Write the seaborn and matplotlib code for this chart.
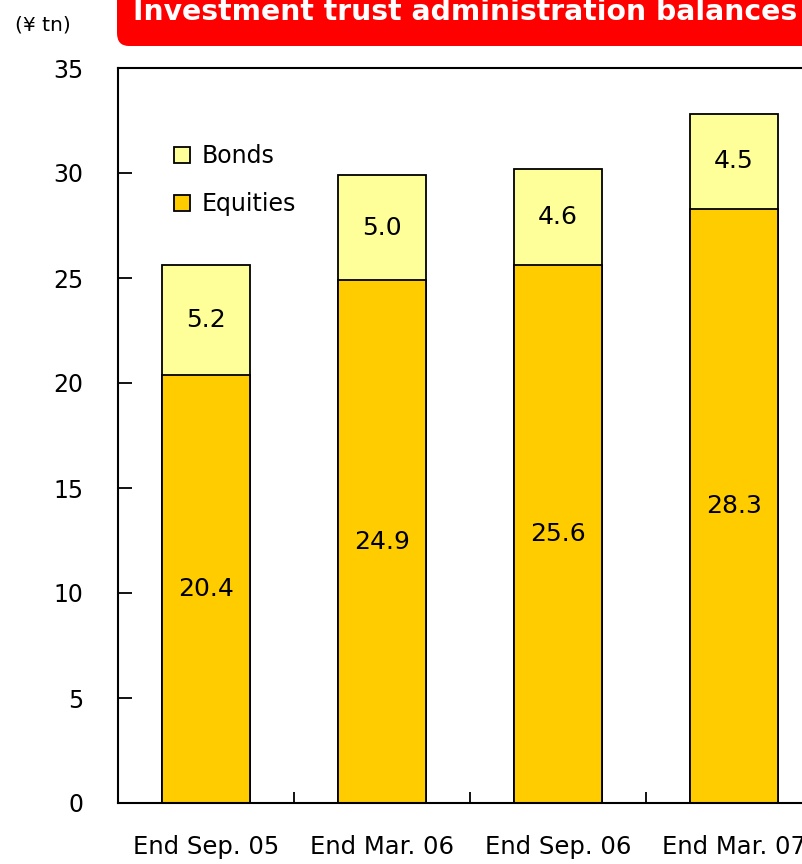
import matplotlib
matplotlib.use("Agg")
import matplotlib.pyplot as plt
import seaborn as sns
import pandas as pd
from matplotlib.patches import FancyBboxPatch
from matplotlib.ticker import FixedLocator

categories = ["End Sep. 05", "End Mar. 06", "End Sep. 06", "End Mar. 07"]
equities = [20.4, 24.9, 25.6, 28.3]
bonds = [5.2, 5.0, 4.6, 4.5]
yticks = [0, 5, 10, 15, 20, 25, 30, 35]

sns.set_style("white")
plt.rcParams["font.family"] = ["DejaVu Sans"]
plt.rcParams["text.color"] = "black"
plt.rcParams["xtick.color"] = "black"
plt.rcParams["ytick.color"] = "black"

totals = [e + b for e, b in zip(equities, bonds)]
df = pd.DataFrame({"cat": categories, "equities": equities, "bonds": bonds, "total": totals})

fig = plt.figure(figsize=(8.02, 8.64), dpi=100)
ax = fig.add_axes([118/802, 61/864, 704/802, 735/864])

sns.barplot(data=df, x="cat", y="total", color="#FFFF99", edgecolor="black",
            linewidth=1.3, width=0.5, saturation=1, ax=ax, label="Bonds")
sns.barplot(data=df, x="cat", y="equities", color="#FFCC00", edgecolor="black",
            linewidth=1.3, width=0.5, saturation=1, ax=ax, label="Equities")

ax.set_xlim(-0.5, 3.5)
ax.set_ylim(0, 35)
ax.set_yticks(yticks)
ax.set_yticklabels([str(t) for t in yticks], fontsize=17)
ax.set_xlabel("")
ax.set_ylabel("")
ax.tick_params(axis="y", direction="in", length=10, width=1.3, pad=25, left=True)
ax.tick_params(axis="x", which="major", length=0, pad=23, labelsize=17.5)
ax.xaxis.set_minor_locator(FixedLocator([0.5, 1.5, 2.5]))
ax.tick_params(axis="x", which="minor", direction="in", length=8, width=1.3, bottom=True)
for s in ax.spines.values():
    s.set_color("black")
    s.set_linewidth(1.5)

for i, (e, b) in enumerate(zip(equities, bonds)):
    ax.text(i, e / 2, f"{e:.1f}", ha="center", va="center", fontsize=18)
    ax.text(i, e + b / 2, f"{b:.1f}", ha="center", va="center", fontsize=18)

handles, labels = ax.get_legend_handles_labels()
leg = ax.legend(handles, labels, loc="upper left", bbox_to_anchor=(0.05, 0.925),
                frameon=False, fontsize=17, handlelength=0.65, handleheight=0.65,
                handletextpad=0.5, labelspacing=1.0)

fig.text(15/802, 1 - 25/864, "(¥ tn)", fontsize=14.5, va="center", ha="left")

box = FancyBboxPatch((117/802, 1 - 46/864), 720/802, 80/864,
                     boxstyle="round,pad=0,rounding_size=0.015",
                     transform=fig.transFigure, facecolor="#FF0000",
                     edgecolor="none", zorder=5)
fig.patches.append(box)
fig.text(133/802, 1 - 20/864, "Investment trust administration balances",
         fontsize=20.3, fontweight="bold", color="white", ha="left", va="baseline",
         zorder=6)

fig.savefig("out.png", dpi=100)
